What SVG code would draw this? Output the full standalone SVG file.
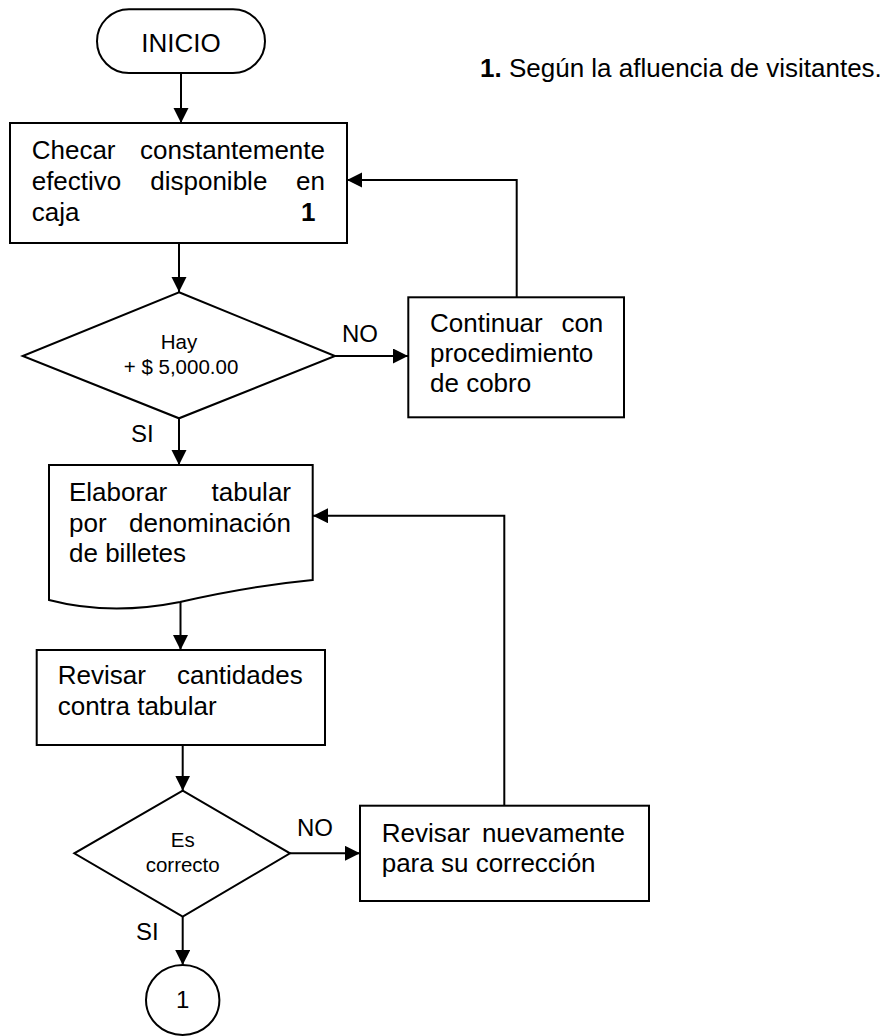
<svg xmlns="http://www.w3.org/2000/svg" width="891" height="1036" viewBox="0 0 891 1036">
<defs>
<marker id="ah" markerUnits="userSpaceOnUse" markerWidth="16" markerHeight="16" refX="15" refY="7.5" orient="auto">
<path d="M0,0 L15,7.5 L0,15 z" fill="#000"/>
</marker>
<style>
.s{fill:#fff;stroke:#000;stroke-width:2}
.c{fill:none;stroke:#000;stroke-width:2;marker-end:url(#ah)}
.l{fill:none;stroke:#000;stroke-width:2}
text{font-family:"Liberation Sans",Arial,sans-serif;fill:#000}
.t{font-size:26px}
.d{font-size:20.5px}
.m{text-anchor:middle}
.e{text-anchor:end}
.b{font-weight:bold}
</style>
</defs>
<rect width="891" height="1036" fill="#fff"/>

<g id="connectors">
<line class="c" x1="181" y1="73" x2="181" y2="123"/>
<line class="c" x1="179" y1="243" x2="179" y2="292"/>
<line class="c" x1="335" y1="356" x2="408" y2="356"/>
<polyline class="c" points="516.7,297 516.7,180 347,180"/>
<line class="c" x1="179" y1="418" x2="179" y2="465"/>
<line class="c" x1="180.5" y1="602" x2="180.5" y2="650"/>
<line class="c" x1="182.7" y1="745" x2="182.7" y2="790.7"/>
<line class="c" x1="290" y1="853.3" x2="360" y2="853.3"/>
<polyline class="c" points="504.3,805.7 504.3,515.7 313,515.7"/>
<line class="c" x1="182.7" y1="916.7" x2="182.7" y2="965"/>
<text class="t" x="342" y="341.7" style="font-size:24px">NO</text>
<text class="t" x="131" y="441.7" style="font-size:24px">SI</text>
<text class="t" x="297" y="835.7" style="font-size:24px">NO</text>
<text class="t" x="136" y="940" style="font-size:24px">SI</text>
</g>

<g id="nota">
<text class="t" x="480" y="76.7"><tspan class="b">1.</tspan> Según la afluencia de visitantes.</text>
</g>

<g id="inicio">
<rect class="s" x="97" y="9.3" width="168" height="63.7" rx="32" ry="32"/>
<text class="t m" x="181" y="51.7">INICIO</text>
</g>

<g id="checar">
<rect class="s" x="10" y="123" width="337" height="120"/>
<text class="t" x="31.7" y="159.3">Checar</text>
<text class="t e" x="325" y="159.3">constantemente</text>
<text class="t" x="31.7" y="190">efectivo</text>
<text class="t m" x="208.8" y="190">disponible</text>
<text class="t e" x="325" y="190">en</text>
<text class="t" x="31.7" y="220.7">caja</text>
<text class="t b" x="301" y="220.7">1</text>
</g>

<g id="hay">
<polygon class="s" points="179,292.3 335,356 179,418.3 22.7,356"/>
<text class="d m" x="179" y="349">Hay</text>
<text class="d m" x="181" y="374.3">+ $ 5,000.00</text>
</g>

<g id="continuar">
<rect class="s" x="408.3" y="297.3" width="215.7" height="120"/>
<text class="t" x="430" y="331.7">Continuar</text>
<text class="t e" x="603.3" y="331.7">con</text>
<text class="t" x="430" y="361.7">procedimiento</text>
<text class="t" x="430" y="391.7">de cobro</text>
</g>

<g id="elaborar">
<path class="s" d="M49,465 H312.7 V580 Q250,586 180,602 Q110,616 49,600 Z"/>
<text class="t" x="69" y="500.7">Elaborar</text>
<text class="t e" x="291" y="500.7">tabular</text>
<text class="t" x="69" y="531.7">por</text>
<text class="t e" x="291" y="531.7">denominación</text>
<text class="t" x="69" y="561.7">de billetes</text>
</g>

<g id="revisar">
<rect class="s" x="36.7" y="650" width="288.3" height="95"/>
<text class="t" x="57.7" y="684">Revisar</text>
<text class="t e" x="302.7" y="684">cantidades</text>
<text class="t" x="57.7" y="715">contra tabular</text>
</g>

<g id="correcto">
<polygon class="s" points="182.7,790.7 290,853.3 182.7,916.7 74.3,853.3"/>
<text class="d m" x="182.7" y="847.3">Es</text>
<text class="d m" x="182.7" y="871.7">correcto</text>
</g>

<g id="revisar-nuevamente">
<rect class="s" x="360" y="805.7" width="289" height="95.3"/>
<text class="t" x="381.7" y="841.7">Revisar</text>
<text class="t e" x="625" y="841.7">nuevamente</text>
<text class="t" x="381.7" y="871.7">para su corrección</text>
</g>

<g id="conector-1">
<ellipse class="s" cx="182.7" cy="1000" rx="36.7" ry="35"/>
<text class="t m" x="182.7" y="1008" style="font-size:24px">1</text>
</g>
</svg>
